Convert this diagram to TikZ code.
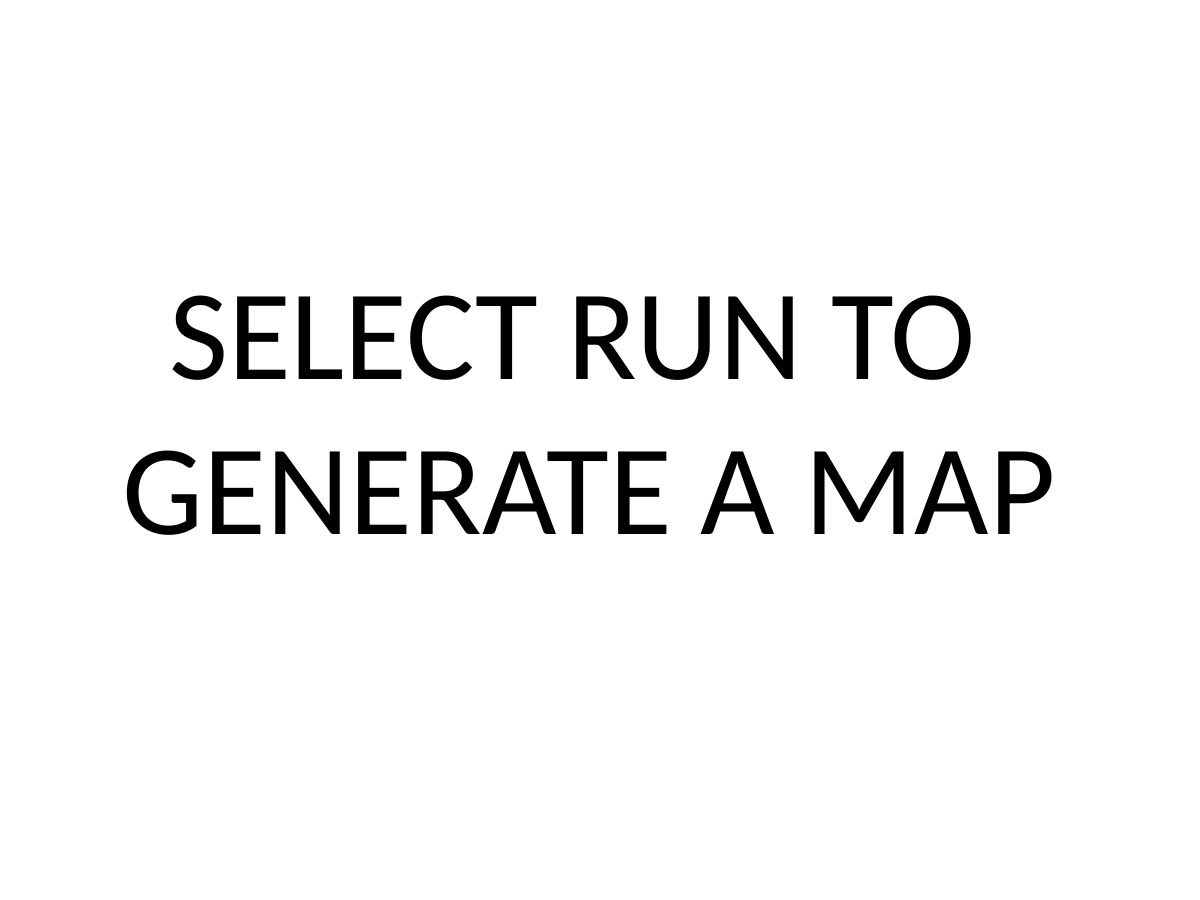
\documentclass[tikz,border=0pt]{standalone}
\usepackage{fontspec}
\setmainfont{Carlito}
\begin{document}
\begin{tikzpicture}[x=1cm,y=1cm,
  bigtext/.style={inner sep=0pt, anchor=base, font=\fontsize{36.6pt}{44pt}\selectfont}]
\useasboundingbox[fill=white] (0,0) rectangle (12,9);
\node[bigtext] (l1) at (5.725,5.20) {SELECT RUN TO};
\node[bigtext] (l2) at (5.89,3.65) {GENERATE A MAP};
\end{tikzpicture}
\end{document}
